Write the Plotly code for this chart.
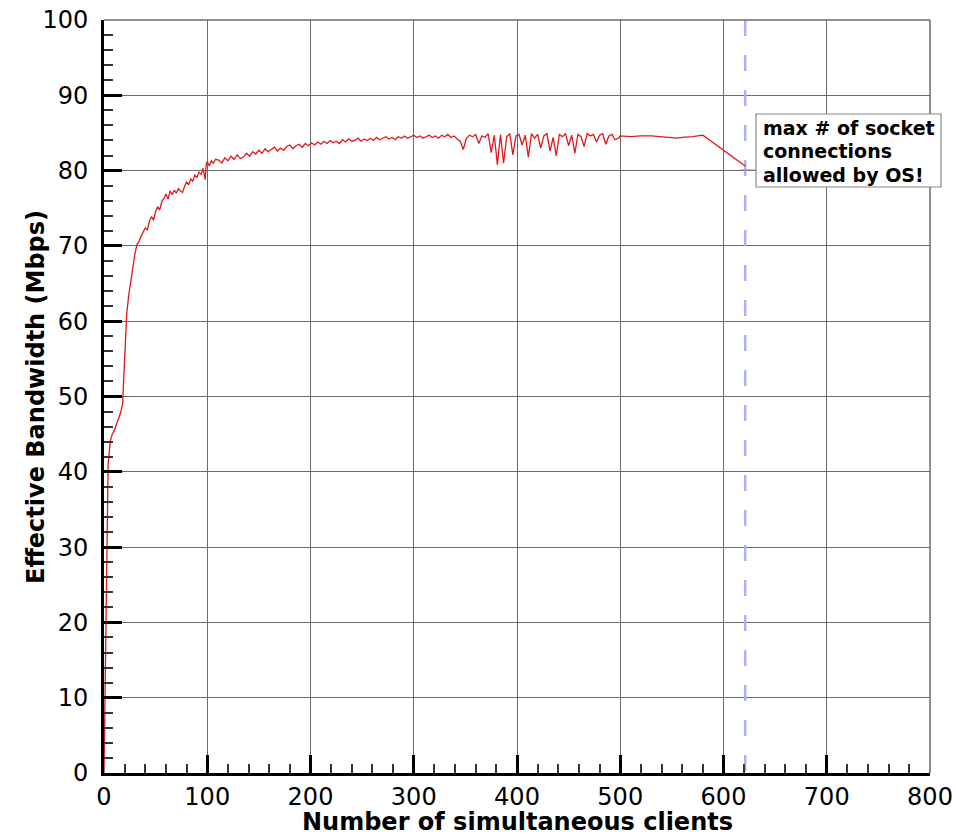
import plotly.graph_objects as go

# ---- data ----
early_x = [0, 1, 2, 3, 4, 6, 8, 10, 12, 14, 16, 18, 19, 20, 21, 22, 24, 26, 28, 30,
           32, 34, 36, 38, 40, 42, 44, 46, 48, 50, 52, 54, 56, 58, 60, 62, 64, 66, 68, 70,
           72, 74, 76, 78, 80, 82, 84, 86, 88, 90, 92, 94, 96, 98, 99, 100, 102, 104, 106, 108]
early_y = [0, 12, 25, 35, 41, 44, 45, 45.5, 46.3, 47, 47.8, 49, 52, 57, 60, 61, 63.5, 65.5, 67.5, 69,
           70.2, 70.6, 71.3, 71.8, 72.4, 72.1, 73.3, 73.9, 73.4, 74.6, 75.2, 74.8, 75.9, 76.3, 76.9, 76.2, 77.3, 76.8, 77.4, 77.0,
           77.6, 77.3, 77.1, 77.9, 78.5, 78.1, 78.9, 78.6, 79.4, 79.1, 79.8, 79.5, 80.3, 78.8, 80.9, 81.2, 80.6, 81.3, 81.0, 81.5]

mid_x = list(range(111, 499, 3))
mid_y = [
    81.4, 81.0, 81.7, 81.3, 81.9, 81.5, 82.1, 81.6, 81.8, 82.3,
    81.9, 82.5, 82.2, 82.7, 82.3, 82.9, 82.5, 82.8, 83.1, 82.6,
    83.0, 82.7, 83.2, 83.4, 82.9, 83.3, 83.5, 83.1, 83.6, 83.3,
    83.7, 83.4, 83.8, 83.5, 83.9, 83.6, 84.0, 83.7, 83.9, 83.6,
    84.1, 83.8, 84.2, 83.9, 84.0, 84.3, 83.9, 84.2, 84.0, 84.3,
    84.0, 84.4, 84.1, 84.3, 84.5, 84.2, 84.4, 84.1, 84.5, 84.3,
    84.6, 84.3, 84.5, 84.7, 84.4, 84.6, 84.3, 84.5, 84.7, 84.4,
    84.6, 84.3, 84.7, 84.5, 84.8, 84.4, 84.6, 84.2, 83.9, 82.8,
    84.3, 84.7, 84.5, 84.8, 83.6, 84.6, 84.4, 84.9, 82.4, 84.7,
    80.8, 84.8, 81.0, 84.5, 84.9, 82.1, 84.6, 84.8, 83.4, 84.7,
    81.8, 84.9, 84.3, 84.8, 83.0, 84.6, 84.9, 82.6, 84.4, 82.0,
    84.8, 84.5, 84.9, 83.3, 84.7, 82.3, 84.8, 84.5, 83.2, 84.9,
    84.6, 84.8, 83.8, 84.7, 84.9, 83.5, 84.6, 84.8, 84.1, 84.3,
]

late_x = [500, 510, 520, 530, 540, 550, 555, 560, 570, 580, 621]
late_y = [84.6, 84.5, 84.6, 84.6, 84.5, 84.4, 84.3, 84.4, 84.5, 84.7, 80.6]

clients = early_x + mid_x + late_x
bandwidth = early_y + mid_y + late_y

max_sockets = 621
y_span = [100, 0]
x_ticks = [0, 100, 200, 300, 400, 500, 600, 700, 800]
y_ticks = [0, 10, 20, 30, 40, 50, 60, 70, 80, 90, 100]
note_lines = ["max # of socket", "connections", "allowed by OS!"]
x_title = "<b>Number of simultaneous clients</b>"
y_title = "<b>Effective Bandwidth (Mbps)</b>"

FONT = "DejaVu Sans, Liberation Sans, Arial, sans-serif"

# plot-area geometry in pixels (used only to place the note box)
PX_L, PX_R, PX_T, PX_B = 104, 930, 20, 773


def px_x(p):
    return (p - PX_L) / (PX_R - PX_L)


def px_y(p):
    return (PX_B - p) / (PX_B - PX_T)


fig = go.Figure()
fig.add_trace(go.Scatter(
    x=[max_sockets, max_sockets], y=y_span, mode="lines",
    line=dict(color="#aab0f5", width=2.5, dash="16px,19px"),
    hoverinfo="skip", showlegend=False))
fig.add_trace(go.Scatter(
    x=clients, y=bandwidth, mode="lines",
    line=dict(color="#e01818", width=1.3),
    showlegend=False))

fig.update_layout(
    width=956, height=840,
    margin=dict(l=104, r=26, t=20, b=67, autoexpand=False),
    paper_bgcolor="white", plot_bgcolor="white",
    font=dict(family=FONT, color="black"),
)

common = dict(
    automargin=False,
    showgrid=True, gridcolor="#6a6a6a", gridwidth=1.3,
    zeroline=False, showline=True, linecolor="black", linewidth=3,
    ticks="inside", ticklen=18, tickwidth=3, tickcolor="black",
    tickfont=dict(size=24, family=FONT, color="black"),
    ticklabeloverflow="allow",
)

fig.update_xaxes(
    range=[0, 800], tickvals=x_ticks, ticktext=[str(v) for v in x_ticks],
    minor=dict(ticks="inside", ticklen=9, tickwidth=1.5, tickcolor="#333", dtick=20, tick0=0, showgrid=False),
    ticklabelstandoff=0,
    **common)
fig.update_yaxes(
    range=[0, 100], tickvals=y_ticks, ticktext=[str(v) for v in y_ticks],
    minor=dict(ticks="inside", ticklen=9, tickwidth=1.5, tickcolor="#333", dtick=2, tick0=0, showgrid=False),
    ticklabelstandoff=8,
    **common)

# top and right frame lines
fig.add_shape(type="line", xref="paper", yref="paper", x0=0, x1=1, y0=1, y1=1,
              layer="above", line=dict(color="#6a6a6a", width=1.5))
fig.add_shape(type="line", xref="paper", yref="paper", x0=1, x1=1, y0=0, y1=1,
              layer="above", line=dict(color="#6a6a6a", width=1.5))

# axis titles
fig.add_annotation(text=x_title, xref="paper", yref="paper", x=0.5, y=px_y(822),
                   xanchor="center", yanchor="middle", showarrow=False,
                   font=dict(size=24, family=FONT, color="black"))
fig.add_annotation(text=y_title, xref="paper", yref="paper", x=px_x(36), y=px_y(397),
                   xanchor="center", yanchor="middle", showarrow=False, textangle=-90,
                   font=dict(size=24, family=FONT, color="black"))

# note box with connector
fig.add_shape(type="line", xref="paper", yref="paper",
              x0=px_x(740), x1=px_x(756), y0=px_y(170), y1=px_y(170),
              layer="above", line=dict(color="#888", width=1))
fig.add_shape(type="rect", xref="paper", yref="paper",
              x0=px_x(756), x1=px_x(941), y0=px_y(187), y1=px_y(114),
              layer="above", fillcolor="white", line=dict(color="#888", width=1.2))
for line_text, cy in zip(note_lines, [128, 151.5, 175]):
    fig.add_annotation(text="<b>" + line_text + "</b>", xref="paper", yref="paper",
                       x=px_x(761), y=px_y(cy), xanchor="left", yanchor="middle",
                       showarrow=False, font=dict(size=19, family=FONT, color="black"))

# remove the default page margin so the figure fills the window exactly
fig.write_html("out.html", config={"displayModeBar": False},
               post_script="document.body.style.margin='0';document.body.style.overflow='hidden';")
